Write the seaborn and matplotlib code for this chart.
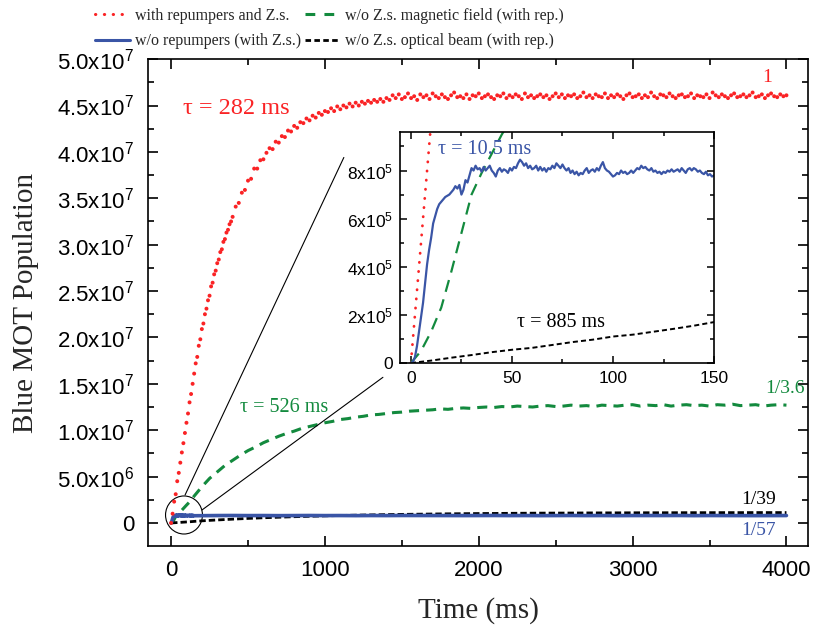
import numpy as np
import matplotlib
matplotlib.use("Agg")
import matplotlib.pyplot as plt
import seaborn as sns
from matplotlib.lines import Line2D
from matplotlib.patches import Ellipse
from matplotlib.ticker import MultipleLocator

# ---------------- data (time in ms) ----------------
# with repumpers and Z.s. (units of 1e6 atoms)
red_t = np.concatenate([np.arange(0, 400, 10), np.arange(400, 4001, 20)])
red_n = [
    0.0, 1.0, 2.3, 3.1, 4.5, 5.4, 6.5, 7.6, 8.6, 9.7,
    10.8, 11.8, 13.0, 13.9, 15.0, 16.1, 17.2, 17.9, 19.1, 19.8,
    20.9, 21.5, 22.5, 23.1, 24.0, 24.5, 25.5, 25.9, 26.8, 27.2,
    28.0, 28.4, 29.2, 29.5, 30.3, 30.6, 31.3, 31.6, 32.2, 32.5,
    33.0, 34.1, 34.5, 35.6, 35.9, 36.9, 37.1, 38.2, 38.2, 39.1,
    39.2, 39.9, 40.4, 40.3, 41.1, 41.0, 41.7, 41.6, 42.3, 42.2,
    42.8, 42.6, 43.2, 43.1, 43.6, 43.4, 43.9, 43.7, 44.2, 44.0,
    44.4, 44.3, 44.7, 44.4, 44.9, 44.6, 45.0, 44.8, 45.2, 44.9,
    45.3, 45.0, 45.4, 45.2, 45.5, 45.3, 45.6, 45.4, 45.7, 45.4,
    45.8,
    45.6, 46.1, 45.8, 46.2, 45.7, 45.9, 46.3, 45.8, 46.0, 45.6,
    46.2, 45.9, 46.1, 45.7, 46.3, 46.0, 45.8, 46.2, 45.9, 45.7,
    46.1, 46.4, 45.9, 46.0, 45.8, 46.2, 45.7, 46.1, 46.0, 46.3,
    45.8, 46.0, 46.2, 45.9, 45.7, 46.1, 46.0, 46.3, 45.8, 46.1,
    45.9, 46.2, 46.0, 45.7, 46.3, 45.9, 46.1, 45.8, 46.0, 46.2,
    45.9, 46.1, 45.7, 46.0, 46.3, 45.9, 46.2, 45.8, 46.1, 46.0,
    46.2, 45.8, 46.0, 46.4, 45.9, 46.1, 45.8, 46.2, 46.0, 45.9,
    46.3, 45.8, 46.1, 45.9, 46.2, 46.0, 45.7, 46.1, 46.3, 45.9,
    46.0, 46.2, 45.8, 46.1, 45.9, 46.4, 46.0, 45.8, 46.2, 46.1,
    45.9, 46.3, 46.0, 45.8, 46.1, 46.2, 45.9, 46.0, 46.3, 45.8,
    46.1, 46.0, 45.9, 46.2, 45.8, 46.4, 46.1, 45.9, 46.2, 46.0,
    45.8, 46.1, 46.3, 45.9, 46.0, 46.2, 45.9, 46.1, 46.4, 45.9,
    46.0, 46.2, 45.8, 46.1, 46.3, 46.0, 45.9, 46.2, 46.0, 46.1,
]

# w/o Z.s. magnetic field (units of 1e6)
green_t = [0, 5, 10, 15, 20, 25, 30, 35, 40, 45, 50, 60, 70, 80, 90, 100,
           125, 150, 175] + list(range(200, 4001, 50))
green_n = [
    0.0, 0.05, 0.13, 0.23, 0.38, 0.54, 0.70, 0.79, 0.87, 0.95, 1.02, 1.2,
    1.38, 1.56, 1.74, 1.92, 2.35, 2.9, 3.4,
    3.9, 4.8, 5.5, 6.2, 6.75, 7.3, 7.8, 8.2, 8.65, 9.0,
    9.35, 9.65, 9.9, 10.2, 10.4, 10.6, 10.8, 10.95, 11.15, 11.25,
    11.4, 11.5, 11.65, 11.7, 11.8, 11.9, 11.95, 12.05, 12.1, 12.15,
    12.2, 12.3, 12.25, 12.35, 12.4, 12.35, 12.45, 12.5, 12.45, 12.55,
    12.5, 12.6, 12.55, 12.5, 12.6, 12.65, 12.55, 12.6, 12.7, 12.6,
    12.65, 12.55, 12.7, 12.65, 12.6, 12.7, 12.75, 12.6, 12.7, 12.65,
    12.75, 12.6, 12.7, 12.75, 12.65, 12.7, 12.6, 12.75, 12.7, 12.8,
    12.65, 12.7, 12.75, 12.6, 12.7, 12.75, 12.7,
]

# w/o Z.s. optical beam (units of 1e6)
black_t = list(range(0, 151, 10)) + list(range(200, 4001, 100))
black_n = [
    0.0, 0.010, 0.022, 0.033, 0.045, 0.055, 0.063, 0.075, 0.087, 0.097,
    0.110, 0.118, 0.130, 0.142, 0.155, 0.170,
    0.23, 0.325, 0.41, 0.49, 0.56, 0.62, 0.675, 0.72, 0.765,
    0.805, 0.84, 0.87, 0.90, 0.925, 0.945, 0.965, 0.985, 1.0, 1.015,
    1.025, 1.04, 1.05, 1.06, 1.065, 1.07, 1.08, 1.085, 1.09, 1.095,
    1.1, 1.1, 1.105, 1.11, 1.11, 1.115, 1.115, 1.12, 1.12, 1.12,
]

# w/o repumpers (units of 1e5), 1 ms steps then coarse
blue_t_fine = np.arange(0, 151, 1)
blue_n_fine = [
    0.0, 0.05, 0.25, 0.7, 1.3, 1.9, 2.5, 3.3, 4.1, 4.7, 5.2,
    5.8, 6.1, 6.4, 6.6, 6.7, 6.8, 6.9, 6.95, 7.0, 7.1,
    7.2, 7.35, 7.25, 7.4, 7.0, 7.2, 7.6, 7.5, 7.8, 8.1,
    8.0, 8.2, 8.05, 8.1, 7.95, 8.15, 8.0, 8.1, 8.2, 8.0,
    7.9, 7.75, 8.0, 8.1, 7.95, 8.05, 8.0, 7.9, 8.1, 8.0,
    8.15, 8.1, 8.3, 8.45, 8.35, 8.2, 8.3, 8.1, 8.2, 8.05,
    8.1, 8.2, 8.0, 8.15, 8.0, 8.1, 7.95, 8.1, 8.05, 8.2,
    8.1, 8.3, 8.2, 8.1, 8.25, 8.1, 8.0, 8.1, 7.9, 8.0,
    7.85, 7.95, 7.8, 7.9, 7.85, 8.0, 8.1, 7.9, 8.0, 8.05,
    7.95, 8.1, 8.0, 8.2, 8.35, 8.1, 8.0, 7.95, 7.85, 7.75,
    7.8, 7.9, 7.85, 8.0, 7.9, 7.95, 7.85, 7.9, 8.0, 7.9,
    8.0, 8.1, 8.05, 8.2, 8.1, 8.15, 8.05, 8.0, 8.1, 7.95,
    8.0, 7.9, 7.95, 7.85, 7.95, 7.9, 8.0, 7.95, 8.05, 7.95,
    8.0, 8.05, 7.95, 8.1, 8.0, 7.9, 8.05, 8.1, 8.0, 8.1,
    8.05, 7.95, 8.0, 7.9, 7.85, 7.95, 7.8, 7.85, 7.75, 7.8,
]
blue_t_coarse = np.arange(200, 4001, 100)
blue_n_coarse = [
    7.9, 8.0, 8.05, 7.95, 8.0, 7.9, 8.0, 8.05, 7.95, 8.0,
    7.9, 8.0, 7.95, 8.05, 8.0, 7.9, 8.0, 7.95, 8.0, 8.05,
    7.95, 8.0, 7.9, 8.0, 8.05, 7.95, 8.0, 7.9, 8.0, 7.95,
    8.0, 8.05, 7.9, 8.0, 7.95, 8.0, 7.9, 7.95, 8.0,
]

legend_labels = ["with repumpers and Z.s.", "w/o repumpers (with Z.s.)",
                 "w/o Z.s. magnetic field (with rep.)",
                 "w/o Z.s. optical beam (with rep.)"]
main_yticks = [0, 5e6, 1e7, 1.5e7, 2e7, 2.5e7, 3e7, 3.5e7, 4e7, 4.5e7, 5e7]
main_ylabels = ["0", "5.0x10$^{6}$", "1.0x10$^{7}$", "1.5x10$^{7}$",
                "2.0x10$^{7}$", "2.5x10$^{7}$", "3.0x10$^{7}$", "3.5x10$^{7}$",
                "4.0x10$^{7}$", "4.5x10$^{7}$", "5.0x10$^{7}$"]
main_xticks = [0, 1000, 2000, 3000, 4000]
ins_yticks = [0, 2e5, 4e5, 6e5, 8e5]
ins_ylabels = ["0", "2x10$^{5}$", "4x10$^{5}$", "6x10$^{5}$", "8x10$^{5}$"]
ins_xticks = [0, 50, 100, 150]

RED, GREEN, BLUE, BLACK = "#fa2325", "#138a3e", "#3a55a6", "black"

# ---------------- style ----------------
sns.set_theme(style="ticks")
plt.rcParams["font.family"] = ["Liberation Serif", "DejaVu Serif"]
plt.rcParams["mathtext.default"] = "regular"
plt.rcParams["axes.linewidth"] = 1.2

red_y = np.array(red_n) * 1e6
green_y = np.array(green_n) * 1e6
black_y = np.array(black_n) * 1e6
blue_t = np.concatenate([blue_t_fine, blue_t_coarse])
blue_y = np.concatenate([blue_n_fine, blue_n_coarse]) * 1e5

fig = plt.figure(figsize=(8.15, 6.29), dpi=100)
ax = fig.add_axes([0.1816, 0.132, 0.8098, 0.774])

sns.lineplot(x=green_t, y=green_y, ax=ax, color=GREEN, lw=2.2,
             linestyle=(0, (3.3, 2.3)), estimator=None, sort=False)
sns.lineplot(x=black_t, y=black_y, ax=ax, color=BLACK, lw=2.0,
             linestyle=(0, (2.3, 1.1)), estimator=None, sort=False)
sns.lineplot(x=blue_t, y=blue_y, ax=ax, color=BLUE, lw=2.6,
             estimator=None, sort=False)
sns.scatterplot(x=red_t, y=red_y, ax=ax, color=RED, s=8,
                edgecolor="none", linewidth=0, zorder=3)

ax.set_xlim(-150, 4140)
ax.set_ylim(-2.48e6, 5.0e7)
ax.set_xticks(main_xticks)
ax.set_yticks(main_yticks)
ax.set_yticklabels(main_ylabels)
ax.xaxis.set_minor_locator(MultipleLocator(500))
ax.yaxis.set_minor_locator(MultipleLocator(2.5e6))
ax.tick_params(which="both", direction="in", top=True, right=True,
               width=1.2, labelsize=16, labelfontfamily="Liberation Sans",
               colors="black")
ax.tick_params(which="major", length=7)
ax.tick_params(which="minor", length=4)
ax.tick_params(axis="x", pad=10)
ax.tick_params(axis="y", pad=10)
for s in ax.spines.values():
    s.set_color("black")
ax.set_xlabel("Time (ms)", fontsize=21)
ax.set_ylabel("Blue MOT Population", fontsize=21)
ax.xaxis.set_label_coords(0.5, -0.105)
ax.yaxis.set_label_coords(-0.165, 0.5)

# zoom marker and connectors
ax.add_patch(Ellipse((84, 0.86e6), 240, 4.1e6, fill=False, ec="black", lw=0.8))
ax.plot([91, 1123], [3.02e6, 3.94e7], color="black", lw=0.8)
ax.plot([201, 1377], [1.40e6, 1.57e7], color="black", lw=0.8)

ax.text(78, 44.7e6, "\u03c4 = 282 ms", color=RED, fontsize=17.5, va="center")
ax.text(3876, 48.0e6, "1", color=RED, fontsize=14, ha="center", va="center")
ax.text(449, 12.5e6, "\u03c4 = 526 ms", color=GREEN, fontsize=14.5, va="center")
ax.text(3993, 14.5e6, "1/3.6", color=GREEN, fontsize=14, ha="center", va="center")
ax.text(3818, 2.48e6, "1/39", color=BLACK, fontsize=14, ha="center", va="center")
ax.text(3818, -0.86e6, "1/57", color=BLUE, fontsize=14, ha="center", va="center")

# ---------------- inset ----------------
axins = fig.add_axes([0.4908, 0.4229, 0.3853, 0.3672])
axins.set_facecolor("white")
sns.lineplot(x=red_t, y=red_y, ax=axins, color=RED, lw=2.0,
             linestyle=(0, (0.1, 3.2)), dash_capstyle="round",
             estimator=None, sort=False)
sns.lineplot(x=green_t, y=green_y, ax=axins, color=GREEN, lw=1.6,
             linestyle=(0, (5.5, 3.5)), estimator=None, sort=False)
sns.lineplot(x=black_t, y=black_y, ax=axins, color=BLACK, lw=1.4,
             linestyle=(0, (2.6, 1.6)), estimator=None, sort=False)
sns.lineplot(x=blue_t, y=blue_y, ax=axins, color=BLUE, lw=1.6,
             estimator=None, sort=False)
axins.set_xlim(-5.4, 150)
axins.set_ylim(0, 9.6e5)
axins.set_xticks(ins_xticks)
axins.set_yticks(ins_yticks)
axins.set_yticklabels(ins_ylabels)
axins.xaxis.set_minor_locator(MultipleLocator(25))
axins.yaxis.set_minor_locator(MultipleLocator(1e5))
axins.tick_params(which="both", direction="in", top=True, right=True,
                  width=1.1, labelsize=12.5, labelfontfamily="Liberation Sans",
                  colors="black", pad=5)
axins.tick_params(axis="x", pad=6)
axins.tick_params(which="major", length=5)
axins.tick_params(which="minor", length=3)
for s in axins.spines.values():
    s.set_color("black")
    s.set_linewidth(1.2)
axins.set_xlabel("")
axins.set_ylabel("")
axins.text(13.4, 8.875e5, "\u03c4 = 10.5 ms", color=BLUE, fontsize=14.5, va="center")
axins.text(52.5, 1.67e5, "\u03c4 = 885 ms", color=BLACK, fontsize=14.5, va="center")

# ---------------- legend ----------------
handles = [
    Line2D([], [], color=RED, lw=2.2, linestyle=(0, (0.1, 2.8)),
           dash_capstyle="round"),
    Line2D([], [], color=BLUE, lw=2.2),
    Line2D([], [], color=GREEN, lw=2.2, linestyle=(0, (3.2, 3.0))),
    Line2D([], [], color=BLACK, lw=2.0, linestyle=(0, (2.0, 1.2))),
]
fig.legend(handles, legend_labels, loc="upper left", ncol=2,
           bbox_to_anchor=(0.117, 0.988), frameon=False, fontsize=11.5,
           handlelength=2.2, handletextpad=0.3, columnspacing=0.2,
           labelspacing=0.62, borderpad=0, borderaxespad=0)

fig.savefig("out.png", dpi=100, facecolor="white")
